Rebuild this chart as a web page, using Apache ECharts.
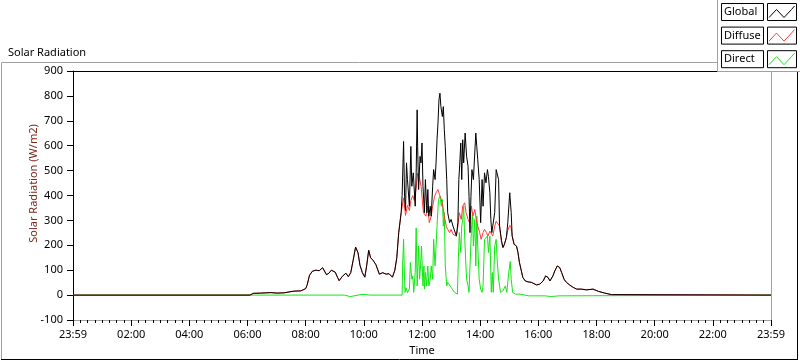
<!DOCTYPE html>
<html>
<head>
<meta charset="utf-8">
<script src="https://cdn.jsdelivr.net/npm/echarts@6/dist/echarts.min.js"></script>
<style>
html,body{margin:0;padding:0;background:#fff;}
#chart{width:800px;height:361px;}
</style>
</head>
<body>
<div id="chart"></div>
<script>
// ---- data (time in minutes after midnight, values in W/m2) ----
const seriesNames = ['Global', 'Diffuse', 'Direct'];
const seriesColors = ['#000000', '#ff3c3c', '#10e810'];
const xTickMinutes = [0, 120, 240, 360, 480, 600, 720, 840, 960, 1080, 1200, 1320, 1440];
const yTicks = [-100, 0, 100, 200, 300, 400, 500, 600, 700, 800, 900];

const globalTime = [0,365,372,387,408,421,435,456,470,480,483,488,494,501,508,515,518,523,528,533,541,546,549,556,563,568,573,578,583,588,592,597,602,606,610,614,619,625,632,639,646,652,659,664,668,672,677,679,682,684,686,688,690,694,697,699,702,706,708,710,711,713,716,718,720,722,725,727,730,732,734,737,739,742,744,747,749,751,753,755,757,759,762,764,766,768,771,773,777,780,784,787,791,794,796,798,800,802,804,806,809,812,815,817,819,821,823,826,829,831,833,835,838,841,844,846,849,852,855,857,860,862,864,867,870,873,875,878,880,884,887,890,894,897,901,904,906,910,915,918,921,925,928,933,939,946,949,956,963,970,975,980,984,987,990,994,999,1004,1008,1013,1018,1025,1032,1039,1049,1059,1073,1084,1097,1111,1115,1440];
const globalValue = [0,0,7,8,10,8,9,16,17,26,40,80,96,100,98,110,102,82,88,100,92,70,58,76,88,74,90,140,193,170,120,90,72,120,180,150,140,122,84,90,84,86,72,100,150,251,331,400,617,397,340,531,464,357,597,437,491,357,491,744,597,424,557,531,611,437,331,464,331,424,317,357,317,437,504,464,531,624,691,784,811,757,717,757,664,597,464,331,291,304,277,277,237,291,464,531,611,464,624,531,651,557,517,397,251,397,504,464,464,651,597,544,464,291,464,357,491,451,504,477,411,304,251,251,331,504,511,464,277,220,191,204,231,291,411,331,237,204,197,171,131,97,71,57,53,51,44,41,44,57,77,71,57,55,77,97,117,111,91,64,51,40,31,24,24,21,24,15,8,2,0,0];

const diffuseTime = [0,365,372,387,408,421,435,456,470,480,483,488,494,501,508,515,518,523,528,533,541,546,549,556,563,568,573,578,583,588,592,597,602,606,610,614,619,625,632,639,646,652,659,664,668,672,677,682,686,690,694,697,701,704,708,711,715,718,723,728,732,735,739,742,746,749,753,756,760,763,766,770,773,777,780,784,787,791,794,797,801,804,808,811,815,818,822,825,829,832,835,839,842,846,849,853,856,860,863,866,870,873,877,880,884,887,890,894,897,901,904,906,910,915,918,921,925,928,933,939,946,949,956,963,970,975,980,984,987,990,994,999,1004,1008,1013,1018,1025,1032,1039,1049,1059,1073,1084,1097,1111,1115,1440];
const diffuseValue = [0,0,7,8,10,8,9,16,17,26,40,80,96,100,98,110,102,82,88,100,92,70,58,76,88,74,90,140,193,170,120,90,72,120,180,150,140,122,84,90,84,86,72,100,150,251,331,390,320,360,340,380,400,380,430,490,470,437,331,317,357,291,317,357,397,411,424,404,384,357,317,277,264,251,264,244,251,237,277,331,304,357,371,331,304,291,357,317,344,304,277,251,224,251,264,251,237,257,251,237,277,297,304,277,211,191,204,231,260,280,270,237,204,197,171,131,97,71,57,53,51,44,41,44,57,77,71,57,55,77,97,117,111,91,64,51,40,31,24,24,21,24,15,8,2,0,0];

const directTime = [0,560,563,572,575,588,591,596,600,604,608,612,664,667,670,679,680,682,684,685,687,690,694,696,699,701,703,706,708,710,713,715,717,719,722,724,725,727,729,732,734,737,739,742,744,747,751,754,757,760,762,764,766,768,771,773,780,787,793,795,797,800,802,804,806,808,810,812,815,817,819,822,824,826,829,831,833,835,838,841,844,846,849,852,855,857,860,863,865,867,870,873,875,878,882,887,892,895,899,902,904,907,913,922,932,940,975,978,985,988,1003,1006,1440];
const directValue = [0,0,-6,-6,0,0,8,3,10,2,-4,0,0,-5,0,0,120,224,60,11,30,10,25,131,64,77,11,91,270,37,197,64,117,197,37,117,24,91,37,117,37,64,117,64,224,117,277,384,397,357,384,277,331,117,37,51,31,11,4,144,251,171,277,304,357,237,144,64,37,11,117,264,331,197,304,117,317,197,64,24,11,37,224,224,237,171,237,11,91,11,197,224,144,64,11,17,37,11,91,135,64,11,4,4,0,-3,-3,-6,-6,-3,-3,0,0];

// ---- build ----
function pairs(t, v) { return t.map((x, i) => [x, v[i]]); }
function timeLabel(m) {
  if (m <= 0 || m >= 1440) return '23:59';
  const h = Math.round(m / 60);
  return (h < 10 ? '0' : '') + h + ':00';
}
const FONT = '"Noto Sans", "Open Sans", sans-serif';
const chart = echarts.init(document.getElementById('chart'), null, {renderer: 'canvas'});

const legendGraphics = [];
legendGraphics.push({type: 'rect', z: 100, shape: {x: 717.5, y: -2, width: 90, height: 73.5},
  style: {fill: '#ffffff', stroke: '#a0a0a0', lineWidth: 1}});
seriesNames.forEach((name, i) => {
  const top = 3.5 + i * 23.6;
  legendGraphics.push({type: 'rect', z: 101, shape: {x: 721.5, y: top, width: 42, height: 17},
    style: {fill: '#ffffff', stroke: '#000000', lineWidth: 1}});
  legendGraphics.push({type: 'text', z: 102, x: 724, y: top + 8.5,
    style: {text: name, fill: '#000', font: '11px ' + FONT, textVerticalAlign: 'middle', verticalAlign: 'middle'}});
  legendGraphics.push({type: 'rect', z: 101, shape: {x: 767.5, y: top, width: 29, height: 17},
    style: {fill: '#ffffff', stroke: '#000000', lineWidth: 1}});
  legendGraphics.push({type: 'polyline', z: 102,
    shape: {points: [[769, top + 14], [776.5, top + 6], [784, top + 14], [791.5, top + 6], [794.5, top + 2.5]]},
    style: {stroke: seriesColors[i], lineWidth: 1, fill: null}});
});
const frame = [
  {type: 'line', shape: {x1: 1.5, y1: 62.5, x2: 717, y2: 62.5}, style: {stroke: '#a0a0a0', lineWidth: 1}},
  {type: 'line', shape: {x1: 1.5, y1: 62.5, x2: 1.5, y2: 360}, style: {stroke: '#a0a0a0', lineWidth: 1}},
  {type: 'line', shape: {x1: 1, y1: 359.5, x2: 798, y2: 359.5}, style: {stroke: '#000000', lineWidth: 1}},
  {type: 'line', shape: {x1: 797.5, y1: 71, x2: 797.5, y2: 360}, style: {stroke: '#000000', lineWidth: 1}}
];

const option = {
  animation: false,
  backgroundColor: '#ffffff',
  textStyle: {fontFamily: FONT},
  title: {text: 'Solar Radiation', left: 3, top: 42,
    textStyle: {fontSize: 11, fontWeight: 'normal', color: '#000', fontFamily: FONT}},
  grid: {left: 73, right: 29, top: 71, bottom: 40, containLabel: false},
  xAxis: [{
    type: 'value', min: xTickMinutes[0], max: xTickMinutes[xTickMinutes.length - 1], interval: 120, position: 'bottom',
    name: 'Time', nameLocation: 'middle', nameGap: 25, nameMoveOverlap: false,
    nameTextStyle: {color: '#000', fontSize: 11, fontFamily: FONT},
    axisLine: {show: true, onZero: false, lineStyle: {color: '#a0a0a0', width: 1}},
    axisTick: {show: true, inside: false, length: 6, lineStyle: {color: '#000', width: 1}},
    minorTick: {show: true, splitNumber: 8, length: 3, lineStyle: {color: '#000', width: 1}},
    axisLabel: {color: '#000', fontSize: 11, margin: 9, fontFamily: FONT,
      formatter: v => timeLabel(v)},
    splitLine: {show: false}, minorSplitLine: {show: false}
  }, {
    type: 'value', min: 0, max: 1440, position: 'top',
    axisLine: {show: true, onZero: false, lineStyle: {color: '#000', width: 1}},
    axisTick: {show: false}, axisLabel: {show: false}, splitLine: {show: false}
  }],
  yAxis: [{
    type: 'value', min: yTicks[0], max: yTicks[yTicks.length - 1], interval: 100, position: 'left',
    name: 'Solar Radiation (W/m2)', nameLocation: 'middle', nameGap: 34, nameRotate: 90, nameMoveOverlap: false,
    nameTextStyle: {color: '#7a2a1c', fontSize: 11, fontFamily: FONT, padding: [0, 0, 0, 24]},
    axisLine: {show: true, onZero: false, lineStyle: {color: '#000', width: 1}},
    axisTick: {show: true, length: 6, lineStyle: {color: '#000', width: 1}},
    axisLabel: {color: '#000', fontSize: 11, margin: 10, fontFamily: FONT},
    splitLine: {show: false}
  }, {
    type: 'value', min: -100, max: 900, position: 'right',
    axisLine: {show: true, onZero: false, lineStyle: {color: '#a0a0a0', width: 1}},
    axisTick: {show: false}, axisLabel: {show: false}, splitLine: {show: false}
  }],
  graphic: frame.concat(legendGraphics),
  series: [
    {name: seriesNames[2], type: 'line', data: pairs(directTime, directValue), showSymbol: false,
      lineStyle: {color: seriesColors[2], width: 1}, itemStyle: {color: seriesColors[2]}, z: 2},
    {name: seriesNames[1], type: 'line', data: pairs(diffuseTime, diffuseValue), showSymbol: false,
      lineStyle: {color: seriesColors[1], width: 1}, itemStyle: {color: seriesColors[1]}, z: 3},
    {name: seriesNames[0], type: 'line', data: pairs(globalTime, globalValue), showSymbol: false,
      lineStyle: {color: seriesColors[0], width: 1}, itemStyle: {color: seriesColors[0]}, z: 4}
  ]
};
chart.setOption(option);
</script>
</body>
</html>
